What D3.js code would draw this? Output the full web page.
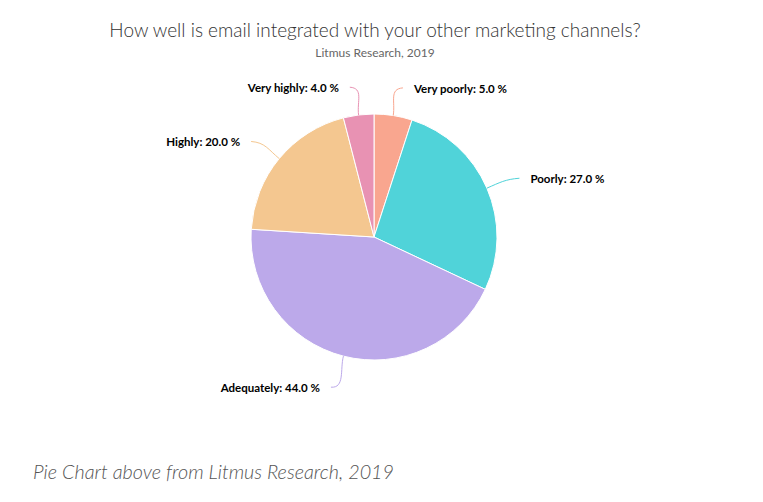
<!DOCTYPE html>
<html><head><meta charset="utf-8">
<script src="https://cdn.jsdelivr.net/npm/d3@7"></script>
<style>body{margin:0;background:#fff;} text{font-family:Lato, "Open Sans", sans-serif;}</style>
</head><body>
<svg id="chart" width="763" height="502"></svg>
<script>
const categories = ["Very poorly", "Poorly", "Adequately", "Highly", "Very highly"];
const values = [5.0, 27.0, 44.0, 20.0, 4.0];
const colors = ["#F9A68F", "#50D3D9", "#BCA9EA", "#F4C790", "#E892B3"];
const title = "How well is email integrated with your other marketing channels?";
const subtitle = "Litmus Research, 2019";
const caption = "Pie Chart above from Litmus Research, 2019";

const svg = d3.select("#chart");
const cx = 374, cy = 237, r = 123, labelDist = 30;

svg.append("text").attr("x", 375).attr("y", 37).attr("text-anchor", "middle")
  .attr("font-size", 19).attr("font-weight", 300).attr("fill", "#333").text(title);
svg.append("text").attr("x", 375).attr("y", 57).attr("text-anchor", "middle")
  .attr("font-size", 12).attr("fill", "#666").text(subtitle);

const data = categories.map((c, i) => ({name: c, value: values[i], color: colors[i]}));
const pie = d3.pie().value(d => d.value).sort(null);
const arcs = pie(data);
const arc = d3.arc().innerRadius(0).outerRadius(r);

const g = svg.append("g").attr("transform", `translate(${cx},${cy})`);
g.selectAll("path.slice").data(arcs).join("path").attr("class", "slice")
  .attr("d", arc).attr("fill", d => d.data.color)
  .attr("stroke", "#fff").attr("stroke-width", 1).attr("stroke-linejoin", "round");

arcs.forEach(a => {
  const m = (a.startAngle + a.endAngle) / 2;
  const sx = Math.sin(m), sy = -Math.cos(m);
  const side = sx >= 0 ? 1 : -1;
  const p0 = [r * sx, r * sy];
  const p1 = [(r + labelDist) * sx, (r + labelDist) * sy + 2];
  const p2 = [p1[0] + side * 5, p1[1]];
  const c1 = [(r + 14) * sx, (r + 14) * sy];
  const c2 = [p2[0] - side * 14, p2[1] + 1];
  g.append("path")
    .attr("d", `M${p0[0]},${p0[1]} C${c1[0]},${c1[1]} ${c2[0]},${c2[1]} ${p2[0]},${p2[1]}`)
    .attr("fill", "none").attr("stroke", a.data.color).attr("stroke-width", 1);
  g.append("text").attr("x", p1[0] + side * 16).attr("y", p1[1] + 5)
    .attr("text-anchor", side > 0 ? "start" : "end")
    .attr("font-size", 11.5).attr("font-weight", "bold").attr("fill", "#000")
    .text(`${a.data.name}: ${d3.format(".1f")(a.data.value)} %`);
});

svg.append("text").attr("x", 33).attr("y", 479).attr("font-size", 19.8)
  .attr("font-style", "italic").attr("font-weight", 300).attr("fill", "#555").text(caption);
</script>
</body></html>
